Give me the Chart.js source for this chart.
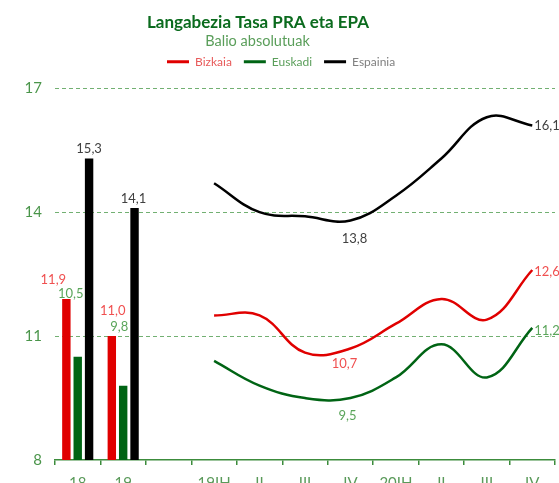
<!DOCTYPE html>
<html><head><meta charset="utf-8">
<script src="https://cdn.jsdelivr.net/npm/chart.js@4"></script>
<style>html,body{margin:0;padding:0;background:#fff;overflow:hidden}</style>
</head><body>
<canvas id="c" width="559" height="483" style="display:block;width:559px;height:483px"></canvas>
<script>
const categories = ['18', '19', '', '19IH', 'II', 'III', 'IV', '20IH', 'II', 'III', 'IV'];
const seriesNames = ['Bizkaia', 'Euskadi', 'Espainia'];
const annualBizkaia = [11.9, 11.0];
const annualEuskadi = [10.5, 9.8];
const annualEspainia = [15.3, 14.1];
const quarterBizkaia = [11.5, 11.5, 10.6, 10.7, 11.3, 11.9, 11.4, 12.6];
const quarterEuskadi = [10.4, 9.8, 9.5, 9.5, 10.0, 10.8, 10.0, 11.2];
const quarterEspainia = [14.7, 14.0, 13.9, 13.8, 14.4, 15.3, 16.3, 16.1];
const yTicks = [8, 11, 14, 17];
const titleText = 'Langabezia Tasa PRA eta EPA';
const subtitleText = 'Balio absolutuak';

const seriesColors = ['#e00000', '#006414', '#000000'];
const legendTextColors = ['#e85a5a', '#5a9e5a', '#808080'];
const labelColors = ['#f05050', '#5aa55a', '#404040'];
const FONT = 'Lato';

const nCat = categories.length;
function annualSeries(vals) { return categories.map((c, i) => i < vals.length ? vals[i] : null); }
function quarterSeries(vals) { const off = nCat - vals.length; return categories.map((c, i) => i >= off ? vals[i - off] : null); }

const barSets = [annualBizkaia, annualEuskadi, annualEspainia];
const lineSets = [quarterBizkaia, quarterEuskadi, quarterEspainia];

const datasets = [];
barSets.forEach((v, i) => datasets.push({
  type: 'bar', label: seriesNames[i], data: annualSeries(v),
  backgroundColor: seriesColors[i], borderWidth: 0,
  categoryPercentage: 0.75, barPercentage: 0.74, order: 2
}));
lineSets.forEach((v, i) => datasets.push({
  type: 'line', label: seriesNames[i], data: quarterSeries(v),
  borderColor: seriesColors[i], backgroundColor: seriesColors[i], borderWidth: 2.5,
  pointRadius: 0, tension: 0.4, fill: false, clip: false, order: 1
}));

// label placement (offsets relative to bar top / line point)
const labelSpecs = [
  {ds: 0, i: 0, dx: -13, dy: -19}, {ds: 1, i: 0, dx: -7, dy: -63}, {ds: 2, i: 0, dx: 0, dy: -10},
  {ds: 0, i: 1, dx: 1, dy: -25}, {ds: 1, i: 1, dx: -4, dy: -59}, {ds: 2, i: 1, dx: -1, dy: -9},
  {ds: 3, i: 6, dx: -6, dy: 15}, {ds: 3, i: 10, dx: 2, dy: 2, align: 'left'},
  {ds: 4, i: 6, dx: -3, dy: 18}, {ds: 4, i: 10, dx: 2, dy: 3, align: 'left'},
  {ds: 5, i: 6, dx: 4, dy: 18}, {ds: 5, i: 10, dx: 2, dy: 0, align: 'left'}
];

const dataLabels = {
  id: 'dataLabels',
  afterDatasetsDraw(chart) {
    const ctx = chart.ctx;
    ctx.save();
    ctx.font = '13px ' + FONT;
    ctx.textBaseline = 'middle';
    labelSpecs.forEach(s => {
      const el = chart.getDatasetMeta(s.ds).data[s.i];
      const v = chart.data.datasets[s.ds].data[s.i];
      if (!el || v == null) return;
      ctx.fillStyle = labelColors[s.ds % 3];
      ctx.textAlign = s.align || 'center';
      ctx.fillText(v.toFixed(1).replace('.', ','), el.x + s.dx, el.y + s.dy);
    });
    ctx.restore();
  }
};

const headerShift = {
  id: 'headerShift',
  afterLayout(chart) {
    if (chart.titleBlock) { chart.titleBlock.left = 0; chart.titleBlock.right = 516; }
    chart.boxes.forEach(b => {
      if (b !== chart.titleBlock && b.options && b.options.text === subtitleText) { b.left = 0; b.right = 515; }
    });
    if (chart.legend) { chart.legend.left = 155; chart.legend.right = 540; }
  }
};

new Chart(document.getElementById('c'), {
  type: 'bar',
  data: { labels: categories, datasets },
  plugins: [dataLabels, headerShift],
  options: {
    responsive: false,
    animation: false,
    layout: { padding: { left: 0, right: 4, top: 0, bottom: 0 } },
    plugins: {
      tooltip: { enabled: false },
      title: {
        display: true, text: titleText, color: '#0b6b1e',
        font: { family: FONT, size: 17, weight: 'bold', lineHeight: 1.2 },
        padding: { top: 12, bottom: 0 }
      },
      subtitle: {
        display: true, text: subtitleText, color: '#5a9e5a',
        font: { family: FONT, size: 14.5, lineHeight: 1.2 },
        padding: { top: 0, bottom: -6 }
      },
      legend: {
        display: true, position: 'top', align: 'start',
        labels: {
          font: { family: FONT, size: 12 }, boxWidth: 22, boxHeight: 3, padding: 12,
          generateLabels: () => seriesNames.map((n, i) => ({
            text: n, fillStyle: seriesColors[i], strokeStyle: seriesColors[i],
            lineWidth: 0, fontColor: legendTextColors[i], hidden: false, datasetIndex: i
          }))
        }
      }
    },
    scales: {
      spacer: {
        type: 'category', position: 'top', display: true,
        grid: { display: false }, border: { display: false }, ticks: { display: false },
        afterFit: s => { s.height = 10.5; }
      },
      x: {
        type: 'category', offset: true,
        grid: { display: true, offset: true, drawOnChartArea: false, drawTicks: true, tickLength: 5, color: '#3c8c3c', lineWidth: 1.5 },
        border: { display: true, color: '#3c8c3c', width: 1.5 },
        ticks: { color: '#5a9a5a', font: { family: FONT, size: 15 }, padding: 9, autoSkip: false, maxRotation: 0 },
        afterFit: s => { s.height = 23; }
      },
      y: {
        min: 8, max: 17,
        afterBuildTicks: s => { s.ticks = yTicks.map(v => ({ value: v })); },
        grid: {
          drawTicks: false,
          color: c => (c.tick && c.tick.value === 8) ? 'rgba(0,0,0,0)' : '#72b072',
          lineWidth: 1
        },
        border: { display: false, dash: [4, 3] },
        ticks: { color: '#4a954a', font: { family: FONT, size: 15 }, padding: 13 },
        afterFit: s => { s.width = 55; }
      }
    }
  }
});
</script>
</body></html>
